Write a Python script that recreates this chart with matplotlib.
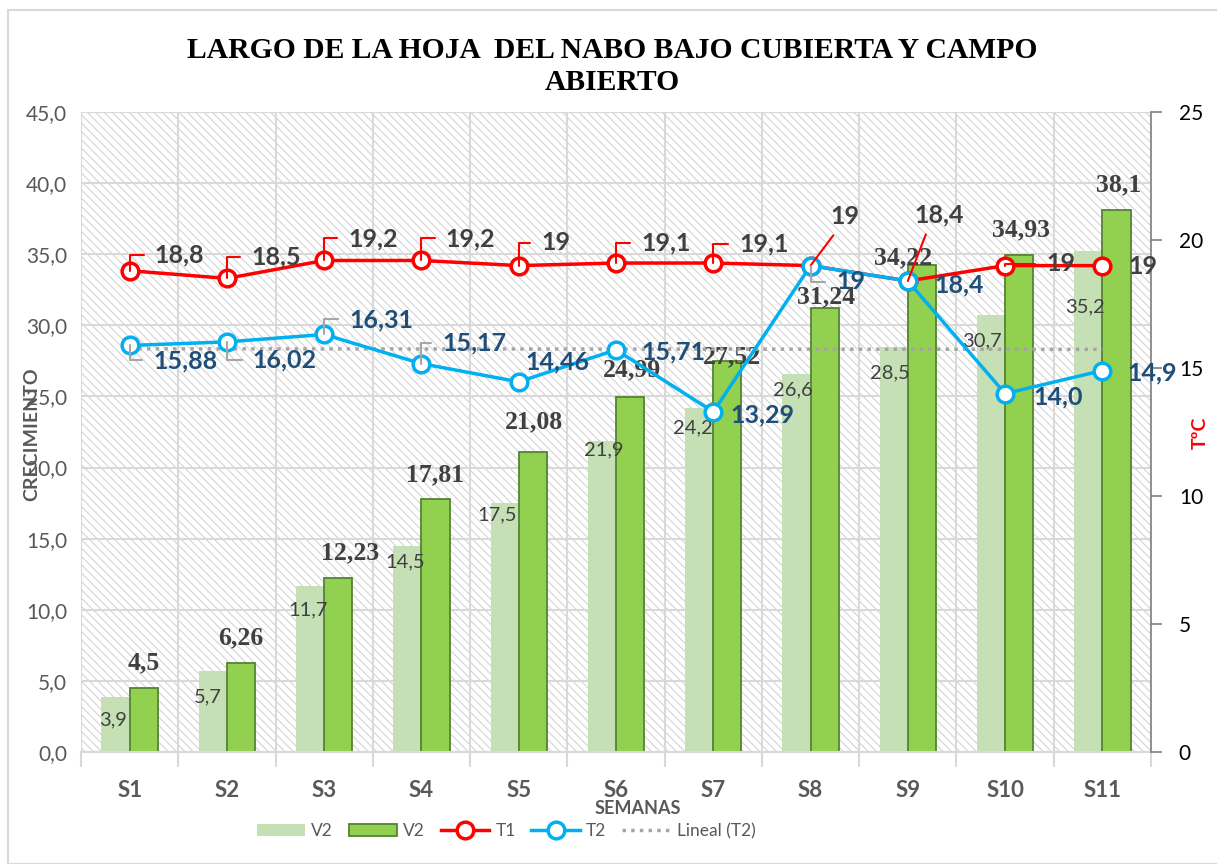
import matplotlib.pyplot as plt
import numpy as np
from matplotlib.patches import Rectangle

# datos
semanas = ['S1', 'S2', 'S3', 'S4', 'S5', 'S6', 'S7', 'S8', 'S9', 'S10', 'S11']
v2_claro = [3.9, 5.7, 11.7, 14.5, 17.5, 21.9, 24.2, 26.6, 28.5, 30.7, 35.2]
v2_oscuro = [4.5, 6.26, 12.23, 17.81, 21.08, 24.99, 27.52, 31.24, 34.22, 34.93, 38.1]
t1 = [18.8, 18.5, 19.2, 19.2, 19, 19.1, 19.1, 19, 18.4, 19, 19]
t2 = [15.88, 16.02, 16.31, 15.17, 14.46, 15.71, 13.29, 19, 18.4, 14.0, 14.9]
t1_txt = ['18,8', '18,5', '19,2', '19,2', '19', '19,1', '19,1', '19', '18,4', '19', '19']
t2_txt = ['15,88', '16,02', '16,31', '15,17', '14,46', '15,71', '13,29', '19', '18,4', '14,0', '14,9']
claro_txt = ['3,9', '5,7', '11,7', '14,5', '17,5', '21,9', '24,2', '26,6', '28,5', '30,7', '35,2']
oscuro_txt = ['4,5', '6,26', '12,23', '17,81', '21,08', '24,99', '27,52', '31,24', '34,22', '34,93', '38,1']

# desplazamientos de etiquetas (pixeles) y tipo de linea guia
t1_off = [(50, 16), (49, 21), (49, 22), (49, 22), (37, 23), (50, 20), (51, 19), (34, 49), (31, 66), (56, 2), (41, -1)]
t1_guia = ['angle', 'angle', 'angle', 'angle', 'angle', 'angle', 'angle', 'diag', 'diag', 'angle', None]
t2_off = [(56, -15), (58, -18), (57, 15), (53, 21), (39, 20), (57, -2), (49, -3), (40, -16), (51, -4), (53, -3), (50, -2)]
t2_guia = ['angle', 'angle', 'angle', 'angle', None, None, None, 'angle', None, None, None]
oscuro_off = [(0, 25), (0, 25), (12, 25), (0, 24), (1, 30), (2, 27), (5, 4), (1, 11), (-19, 8), (2, 25), (2, 25)]
claro_off = [(-2, -23), (-5, -26), (-2, -24), (-2, -16), (-8, -12), (2, -9), (-6, -20), (-4, -16), (-4, -26), (-9, -25), (-3, -55)]

plt.rcParams['font.family'] = ['Lato', 'DejaVu Sans']
plt.rcParams['hatch.linewidth'] = 0.8

fig = plt.figure(figsize=(12.17, 8.64), dpi=100)
ax = fig.add_axes([81 / 1217, 1 - 752 / 864, (1151 - 81) / 1217, (752 - 112) / 864])
ax2 = ax.twinx()

x = np.arange(len(semanas))
w = 0.29

# fondo rayado
ax.add_patch(Rectangle((0, 0), 1, 1, transform=ax.transAxes, facecolor='white',
                       edgecolor='#D4D4D4', hatch='\\\\\\\\', lw=0, zorder=0))

ax.bar(x - w / 2, v2_claro, w, color='#C5E0B4', zorder=2, label='V2')
ax.bar(x + w / 2, v2_oscuro, w, color='#92D050', edgecolor='#548235', lw=1.3, zorder=2, label='V2')

yt = np.arange(0, 46, 5)
ax.set_xlim(-0.5, len(semanas) - 0.5)
ax.set_ylim(0, 45)
ax.set_yticks(yt)
ax.set_yticklabels([('%.1f' % v).replace('.', ',') for v in yt])
ax.tick_params(axis='y', length=0, labelsize=15, labelcolor='#595959', pad=10)
ax.set_xticks(x)
ax.set_xticklabels(semanas, fontweight='bold', fontsize=16, color='#595959')
ax.set_xticks(np.arange(-0.5, len(semanas), 1), minor=True)
ax.tick_params(axis='x', which='major', length=0, pad=20)
ax.tick_params(axis='x', which='minor', length=11, color='#D9D9D9', width=1.5)
ax.grid(True, which='minor', axis='x', color='#D9D9D9', lw=1.5, zorder=0.5)
ax.grid(True, which='major', axis='y', color='#D9D9D9', lw=1.5, zorder=0.5)
ax.set_axisbelow(True)
for s in ['top', 'left', 'right']:
    ax.spines[s].set_visible(False)
ax.spines['bottom'].set_color('#D9D9D9')
ax.spines['bottom'].set_linewidth(1.5)

for i in range(len(semanas)):
    ax.annotate(oscuro_txt[i], (x[i] + w / 2, v2_oscuro[i]), xytext=oscuro_off[i],
                textcoords='offset pixels', ha='center', va='center', fontsize=18.5,
                fontweight='bold', family='Liberation Serif', color='#404040', zorder=3)
    ax.annotate(claro_txt[i], (x[i] - w / 2, v2_claro[i]), xytext=claro_off[i],
                textcoords='offset pixels', ha='center', va='center', fontsize=14.5,
                color='#404040', zorder=3)

# temperaturas
ax2.set_ylim(0, 25)
ax2.set_yticks(np.arange(0, 26, 5))
ax2.tick_params(axis='y', length=8, color='#7F7F7F', labelsize=15, labelcolor='black',
                width=1.2, pad=12)
for s in ['top', 'left', 'bottom']:
    ax2.spines[s].set_visible(False)
ax2.spines['right'].set_color('#7F7F7F')
ax2.spines['right'].set_linewidth(1.2)

ax2.plot(x, t1, color='#FF0000', lw=2.5, marker='o', ms=12, mfc='white', mew=2.5, zorder=3, label='T1')
ax2.plot(x, t2, color='#00B0F0', lw=2.5, marker='o', ms=12, mfc='white', mew=2.5, zorder=4, label='T2')
coef = np.polyfit(x, t2, 1)
ax2.plot(x, np.polyval(coef, x), color='#A6A6A6', lw=2.5, ls=(0, (1, 1.5)), zorder=2.5, label='Lineal (T2)')


def etiqueta(axe, txt, xy, off, guia, color, gcolor, fs):
    props = None
    if guia == 'angle':
        props = dict(arrowstyle='-', color=gcolor, lw=1.5, shrinkA=6, shrinkB=0,
                     connectionstyle='angle,angleA=0,angleB=90,rad=0', relpos=(0, 0.5))
    elif guia == 'diag':
        props = dict(arrowstyle='-', color=gcolor, lw=1.5, shrinkA=4, shrinkB=0, relpos=(0.3, 0))
    axe.annotate(txt, xy, xytext=off, textcoords='offset pixels', ha='center', va='center',
                 fontsize=fs, fontweight='bold', color=color, arrowprops=props, zorder=5)


for i in range(len(semanas)):
    etiqueta(ax2, t1_txt[i], (x[i], t1[i]), t1_off[i], t1_guia[i], '#404040', '#FF0000', 18)
    etiqueta(ax2, t2_txt[i], (x[i], t2[i]), t2_off[i], t2_guia[i], '#1F4E79', '#A6A6A6', 18)

fig.text(0.503, 1 - 50 / 864, 'LARGO DE LA HOJA  DEL NABO BAJO CUBIERTA Y CAMPO',
         ha='center', va='center', fontsize=21.3, fontweight='bold', family='Liberation Serif')
fig.text(0.503, 1 - 83 / 864, 'ABIERTO',
         ha='center', va='center', fontsize=21.3, fontweight='bold', family='Liberation Serif')
fig.text(638 / 1217, 1 - 808 / 864, 'SEMANAS', ha='center', va='center', fontsize=13,
         fontweight='bold', color='#595959')
fig.text(32 / 1217, 1 - 434 / 864, 'CRECIMIENTO', ha='center', va='center', rotation=90,
         fontsize=14, fontweight='bold', color='#595959')
fig.text(1200 / 1217, 1 - 433 / 864, 'TºC', ha='center', va='center', rotation=90,
         fontsize=14, fontweight='bold', color='#FF0000')

h1, l1 = ax.get_legend_handles_labels()
h2, l2 = ax2.get_legend_handles_labels()
fig.legend(h1 + h2, l1 + l2, loc='center', bbox_to_anchor=(506 / 1217, 1 - 831 / 864), ncol=5,
           frameon=False, fontsize=12.5, labelcolor='#595959', handlelength=2.8, columnspacing=0.9,
           handletextpad=0.35)

fig.add_artist(Rectangle((8 / 1217, 0), 1, 1 - 10 / 864, transform=fig.transFigure,
                         facecolor='none', edgecolor='#D9D9D9', lw=1.5))

fig.savefig('out.png', dpi=100)
